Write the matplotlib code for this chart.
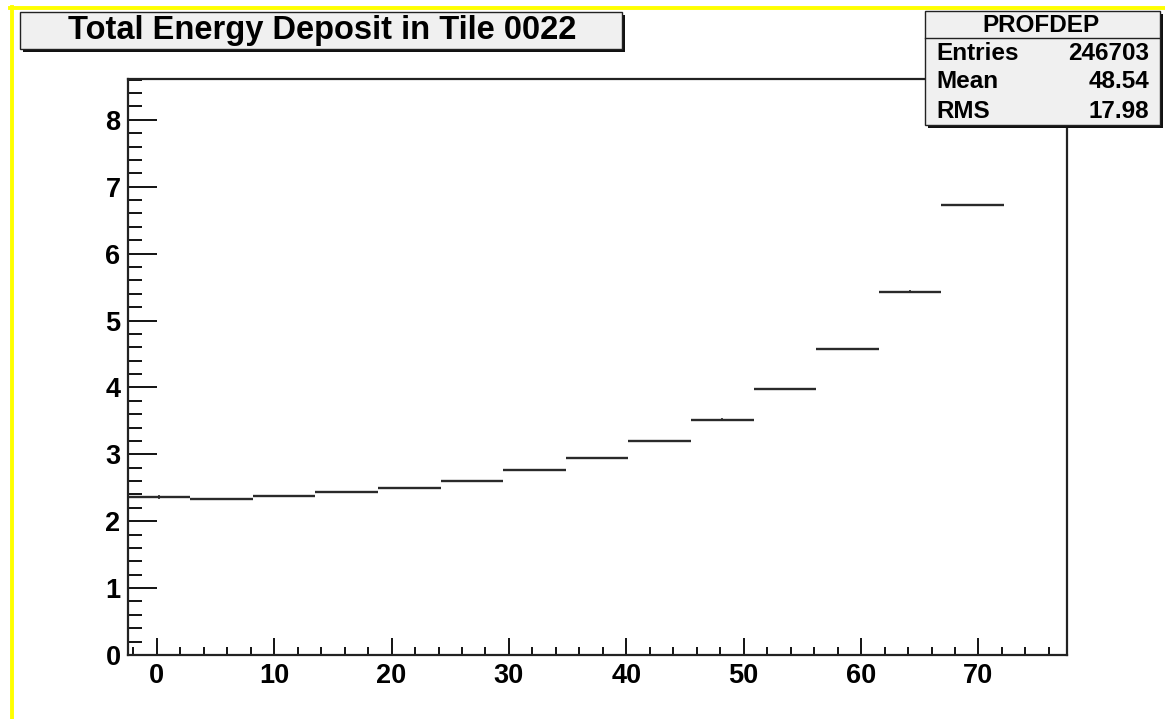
import numpy as np
import matplotlib
matplotlib.use("Agg")
import matplotlib.pyplot as plt
from matplotlib.patches import Rectangle
from matplotlib.lines import Line2D
from matplotlib.ticker import MultipleLocator

# profile histogram: 15 bins from -2.5 to 77.5, last one empty
bin_lo = -2.5
bin_hi = 77.5
nbins = 15
means = [2.36, 2.33, 2.38, 2.43, 2.49, 2.60, 2.76, 2.95, 3.20, 3.52, 3.97, 4.57, 5.43, 6.72]
errors = [0.03, 0.02, 0.01, 0.01, 0.01, 0.01, 0.01, 0.01, 0.01, 0.02, 0.01, 0.01, 0.02, 0.01]

title = "Total Energy Deposit in Tile 0022"
stats_name = "PROFDEP"
stats_rows = [("Entries", "246703"), ("Mean", "48.54"), ("RMS", "17.98")]

plt.rcParams['font.family'] = ['Liberation Sans', 'DejaVu Sans']
plt.rcParams['font.weight'] = 'bold'

W, H = 1165, 719
fig = plt.figure(figsize=(W / 100, H / 100), dpi=100)

def fx(px):
    return px / W

def fy(py):
    return 1 - py / H

ax = fig.add_axes([fx(127.5), fy(655), fx(1066.5) - fx(127.5), fy(79) - fy(655)])

edges = np.linspace(bin_lo, bin_hi, nbins + 1)
col = '#2a2a2a'
for i, m in enumerate(means):
    ax.hlines(m, edges[i], edges[i + 1], color=col, lw=1.7)
    c = 0.5 * (edges[i] + edges[i + 1])
    ax.vlines(c, m - errors[i], m + errors[i], color=col, lw=1.2)

ax.set_xlim(bin_lo, bin_hi)
ax.set_ylim(0, 8.61)

ax.xaxis.set_major_locator(MultipleLocator(10))
ax.xaxis.set_minor_locator(MultipleLocator(2))
ax.yaxis.set_major_locator(MultipleLocator(1))
ax.yaxis.set_minor_locator(MultipleLocator(0.2))

ax.tick_params(axis='x', which='major', direction='in', length=12, width=1.3, labelsize=19.5, pad=6)
ax.tick_params(axis='x', which='minor', direction='in', length=5.5, width=1.3)
ax.tick_params(axis='y', which='major', direction='in', length=21, width=1.3, labelsize=19.5, pad=5)
ax.tick_params(axis='y', which='minor', direction='in', length=10, width=1.3)
for lab in ax.get_xticklabels() + ax.get_yticklabels():
    lab.set_fontweight('bold')
for s in ax.spines.values():
    s.set_linewidth(1.6)
    s.set_color('#222222')

# title box
tb = [20, 12, 622, 49]
fig.patches.append(Rectangle((fx(tb[0] + 3), fy(tb[3] + 3)), fx(tb[2] - tb[0]), fy(tb[1]) - fy(tb[3]),
                             transform=fig.transFigure, facecolor='#111111', edgecolor='none', zorder=1))
fig.patches.append(Rectangle((fx(tb[0]), fy(tb[3])), fx(tb[2] - tb[0]), fy(tb[1]) - fy(tb[3]),
                             transform=fig.transFigure, facecolor='#f0f0f0', edgecolor='#222222', lw=1.0, zorder=2))
fig.text(fx(322), fy(31), title, ha='center', va='center',
         fontsize=23.5, fontweight='bold', zorder=3)

# stats box
sb = [925, 11, 1160, 125]
fig.patches.append(Rectangle((fx(sb[0] + 3), fy(sb[3] + 3)), fx(sb[2] - sb[0]), fy(sb[1]) - fy(sb[3]),
                             transform=fig.transFigure, facecolor='#111111', edgecolor='none', zorder=4))
fig.patches.append(Rectangle((fx(sb[0]), fy(sb[3])), fx(sb[2] - sb[0]), fy(sb[1]) - fy(sb[3]),
                             transform=fig.transFigure, facecolor='#f0f0f0', edgecolor='#222222', lw=1.0, zorder=5))
fig.add_artist(Line2D([fx(sb[0]), fx(sb[2])], [fy(38), fy(38)], color='#222222', lw=1.0, zorder=6))
fig.text(fx(1041), fy(25), stats_name, ha='center', va='center', fontsize=17.5, fontweight='bold', zorder=7)
row_y = [53, 82, 111]
for (k, v), yy in zip(stats_rows, row_y):
    fig.text(fx(936), fy(yy), k, ha='left', va='center', fontsize=17.5, fontweight='bold', zorder=7)
    fig.text(fx(1149), fy(yy), v, ha='right', va='center', fontsize=17.5, fontweight='bold', zorder=7)

# yellow canvas frame (top and left)
fig.add_artist(Line2D([fx(11.5), fx(11.5)], [fy(7), 0], color='#ffff00', lw=2.8, zorder=8))
fig.add_artist(Line2D([fx(10), 1], [fy(8), fy(8)], color='#ffff00', lw=2.8, zorder=8))

fig.savefig('out.png', dpi=100)
